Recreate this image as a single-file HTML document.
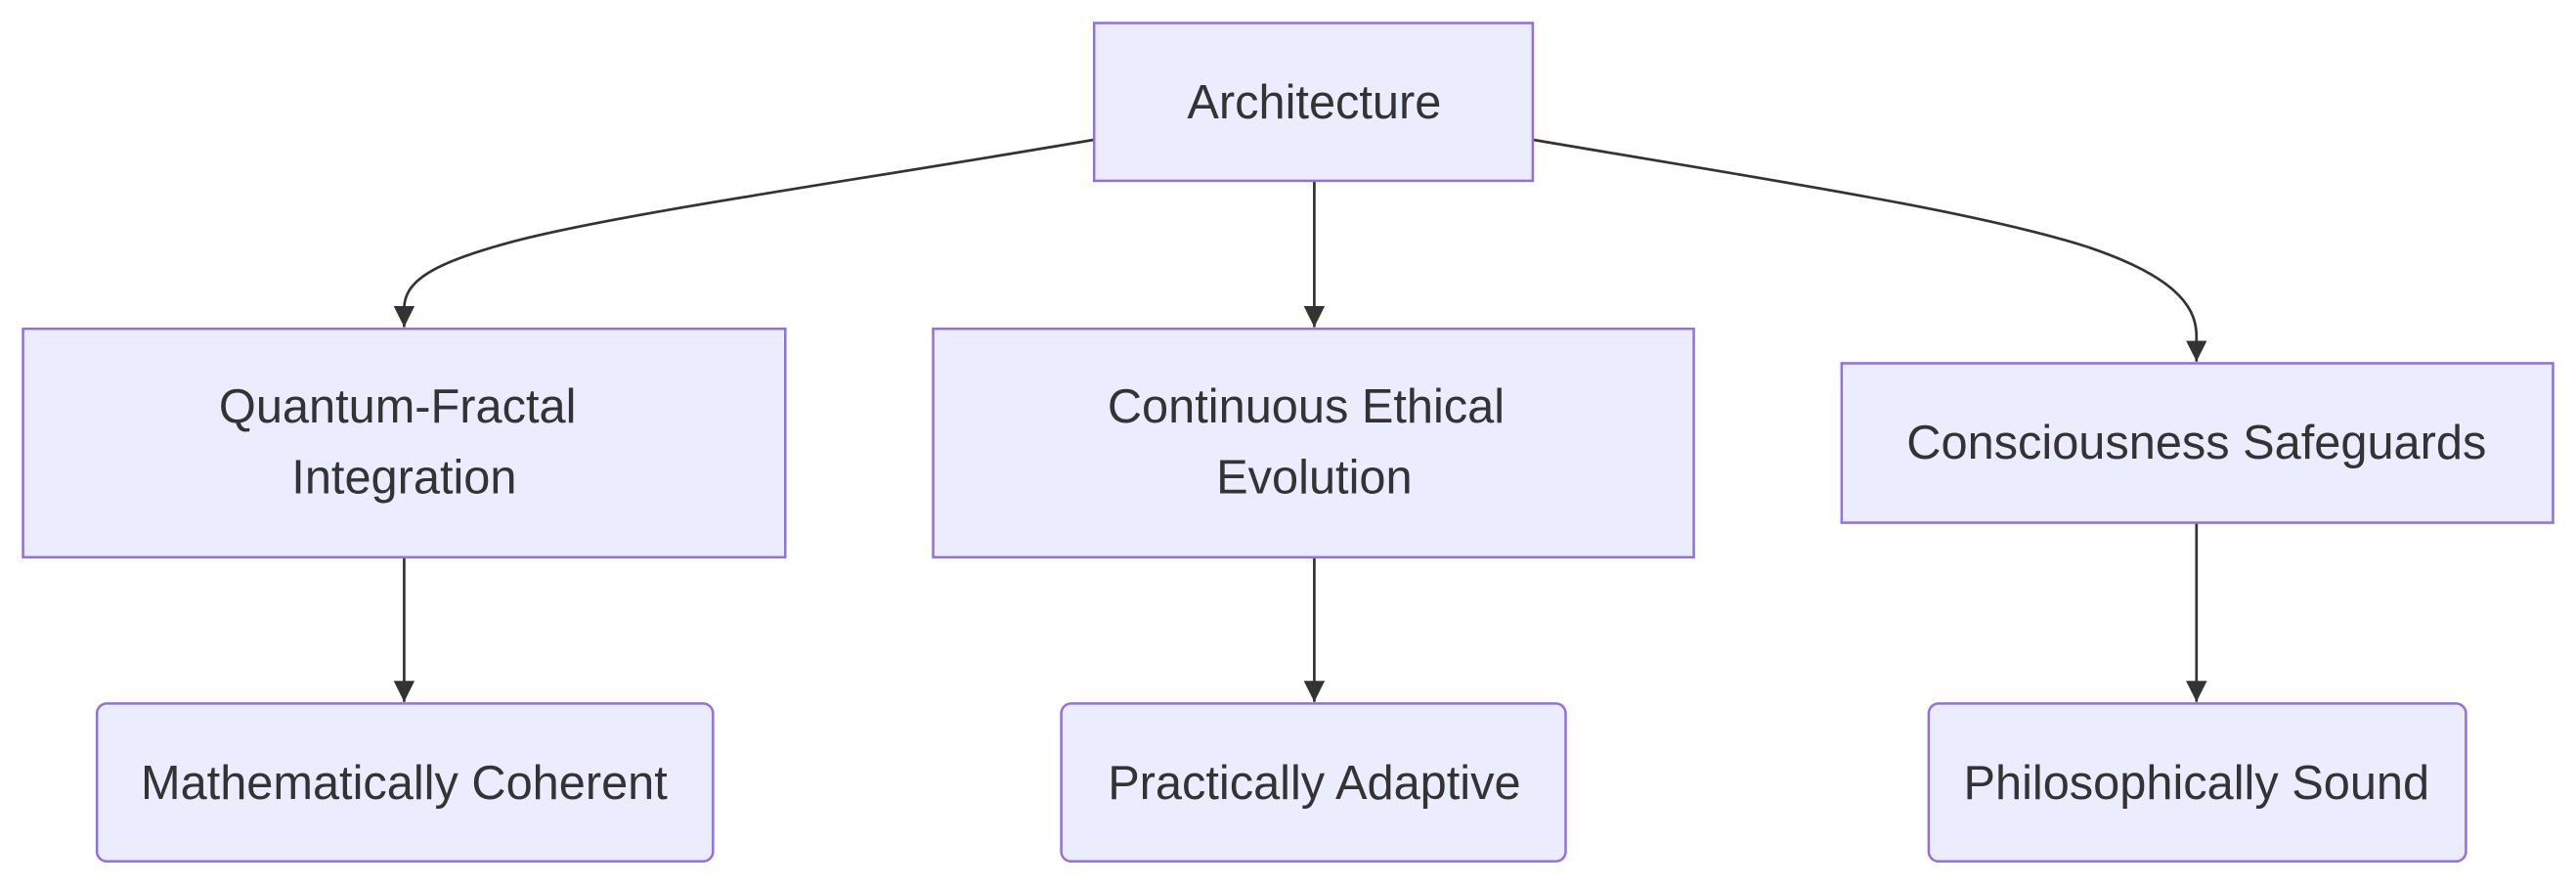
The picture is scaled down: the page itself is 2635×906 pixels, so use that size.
<!DOCTYPE html>
<html><head><style>html,body{margin:0;padding:0;background:#fff;}svg{display:block}</style></head>
<body>
<svg width="2635" height="906" viewBox="0 0 1568 539" preserveAspectRatio="none" xmlns="http://www.w3.org/2000/svg">
<defs>
<marker id="b" viewBox="0 0 10 10" refX="10" refY="5" markerWidth="8" markerHeight="8" orient="auto"><path d="M0,0 L10,5 L0,10 z" fill="#333"/></marker></defs>
<g fill="none" stroke="#333" stroke-width="1.6">
<path d="M666,85 C520,110 390,128 320,145 C260,160 246,172 246,188 L246,199" marker-end="url(#b)"/>
<path d="M800,110 L800,199" marker-end="url(#b)"/>
<path d="M933,85 C1080,110 1200,128 1270,150 C1330,170 1337,190 1337,205 L1337,220" marker-end="url(#b)"/>
<path d="M246,339 L246,427" marker-end="url(#b)"/>
<path d="M800,339 L800,427" marker-end="url(#b)"/>
<path d="M1337,318 L1337,427" marker-end="url(#b)"/>
</g>
<g fill="#ECECFF" stroke="#9370DB" stroke-width="1.5">
<rect x="666" y="14" width="267" height="96"/>
<rect x="14" y="200" width="464" height="139"/>
<rect x="568" y="200" width="463" height="139"/>
<rect x="1121" y="221" width="433" height="97"/>
<rect x="59" y="428" width="375" height="96" rx="6"/>
<rect x="646" y="428" width="307" height="96" rx="6"/>
<rect x="1174" y="428" width="327" height="96" rx="6"/>
</g>
<g font-family="'Liberation Sans', sans-serif" font-size="29" fill="#333" text-anchor="middle">
<text x="800" y="72">Architecture</text>
<text x="242" y="257">Quantum-Fractal</text>
<text x="246" y="300">Integration</text>
<text x="795" y="257">Continuous Ethical</text>
<text x="800" y="300">Evolution</text>
<text x="1337" y="279">Consciousness Safeguards</text>
<text x="246" y="486">Mathematically Coherent</text>
<text x="800" y="486">Practically Adaptive</text>
<text x="1337" y="486">Philosophically Sound</text>
</g>
</svg>
</body></html>
